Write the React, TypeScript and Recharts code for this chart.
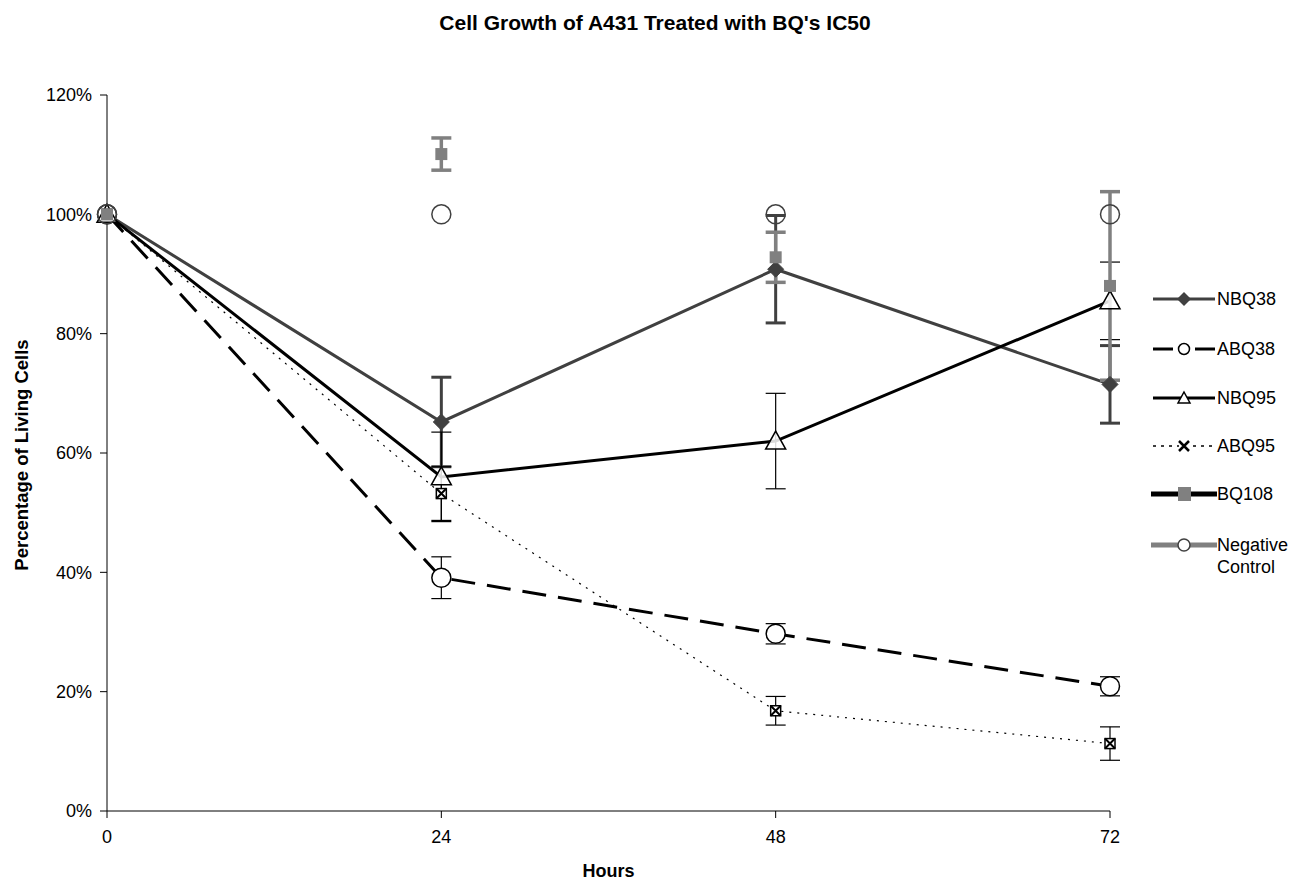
import React from 'react';
import { LineChart, Line, XAxis, YAxis, ErrorBar } from 'recharts';

const hours = [0, 24, 48, 72];
const nbq38 = [100, 65.2, 90.8, 71.5];
const nbq38Err = [0, 7.5, 9, 6.5];
const abq38 = [100, 39.1, 29.7, 20.9];
const abq38Err = [0, 3.5, 1.7, 1.6];
const nbq95 = [100, 56, 62, 85.5];
const nbq95Err = [0, 7.5, 8, 6.5];
const abq95 = [100, 53.2, 16.8, 11.3];
const abq95Err = [0, 4.5, 2.4, 2.8];
const bq108 = [100, 110.1, 92.8, 88];
const bq108Err = [0, 2.7, 4.2, 15.8];
const negControl = [100, 100, 100, 100];
const yTicks = [0, 20, 40, 60, 80, 100, 120];
const xTicks = [0, 24, 48, 72];
const legendNames = ['NBQ38', 'ABQ38', 'NBQ95', 'ABQ95', 'BQ108', 'Negative Control'];

const data = hours.map((h, i) => ({
  h,
  nbq38: nbq38[i], nbq38Err: nbq38Err[i],
  abq38: abq38[i], abq38Err: abq38Err[i],
  nbq95: nbq95[i], nbq95Err: nbq95Err[i],
  abq95: abq95[i], abq95Err: abq95Err[i],
  bq108: bq108[i], bq108Err: bq108Err[i],
  neg: negControl[i],
}));

const FONT = 'Arial, "Liberation Sans", sans-serif';
const DARK = '#404040';
const GRAY = '#808080';

const Diamond = (p: any) => {
  const { cx, cy, key } = p;
  if (cx == null || cy == null) return <g key={key} />;
  const s = 8;
  return <path key={key} d={`M${cx},${cy - s}L${cx + s},${cy}L${cx},${cy + s}L${cx - s},${cy}Z`} fill={DARK} stroke={DARK} />;
};
const makeCircle = (color: string, r: number) => (p: any) => {
  const { cx, cy, key } = p;
  if (cx == null || cy == null) return <g key={key} />;
  return <circle key={key} cx={cx} cy={cy} r={r} fill="#fff" fillOpacity={color === DARK ? 0 : 1} stroke={color} strokeWidth={1.5} />;
};
const Triangle = (p: any) => {
  const { cx, cy, key } = p;
  if (cx == null || cy == null) return <g key={key} />;
  return <path key={key} d={`M${cx},${cy - 10}L${cx + 10},${cy + 8}L${cx - 10},${cy + 8}Z`} fill="#fff" fillOpacity={0.85} stroke="#000" strokeWidth={1.5} />;
};
const XBox = (p: any) => {
  const { cx, cy, key } = p;
  if (cx == null || cy == null) return <g key={key} />;
  const s = 5;
  return (
    <g key={key}>
      <rect x={cx - s} y={cy - s} width={2 * s} height={2 * s} fill="#fff" stroke="#000" strokeWidth={1.5} />
      <path d={`M${cx - s},${cy - s}L${cx + s},${cy + s}M${cx + s},${cy - s}L${cx - s},${cy + s}`} stroke="#000" strokeWidth={2} />
    </g>
  );
};
const Square = (p: any) => {
  const { cx, cy, key } = p;
  if (cx == null || cy == null) return <g key={key} />;
  return <rect key={key} x={cx - 6} y={cy - 6} width={12} height={12} fill={GRAY} />;
};

const legendIcons = [
  <svg width={66} height={20}><line x1={2} y1={10} x2={64} y2={10} stroke={DARK} strokeWidth={3} /><path d="M33,3L40,10L33,17L26,10Z" fill={DARK} /></svg>,
  <svg width={66} height={20}><line x1={2} y1={10} x2={22} y2={10} stroke="#000" strokeWidth={3} /><line x1={44} y1={10} x2={64} y2={10} stroke="#000" strokeWidth={3} /><circle cx={33} cy={10} r={5.5} fill="#fff" stroke="#000" strokeWidth={1.5} /></svg>,
  <svg width={66} height={20}><line x1={2} y1={10} x2={64} y2={10} stroke="#000" strokeWidth={3} /><path d="M33,4L39,15L27,15Z" fill="#fff" stroke="#000" strokeWidth={1.5} /></svg>,
  <svg width={66} height={20}><line x1={2} y1={10} x2={64} y2={10} stroke="#000" strokeWidth={1.5} strokeDasharray="3 5" /><rect x={28} y={5} width={10} height={10} fill="#fff" /><path d="M28,5L38,15M38,5L28,15" stroke="#000" strokeWidth={2.5} /></svg>,
  <svg width={66} height={20}><line x1={0} y1={10} x2={66} y2={10} stroke="#000" strokeWidth={5} /><rect x={27} y={3} width={13} height={14} fill={GRAY} /></svg>,
  <svg width={66} height={20}><line x1={0} y1={10} x2={66} y2={10} stroke={GRAY} strokeWidth={5} /><circle cx={33} cy={10} r={6} fill="#fff" stroke={DARK} strokeWidth={1.5} /></svg>,
];
const legendY = [299, 349, 398, 446, 494, 545];

export default function App() {
  return (
    <div style={{ position: 'relative', width: 1290, height: 876, fontFamily: FONT, background: '#fff' }}>
      <div style={{ position: 'absolute', left: 0, width: 1294, top: 2, textAlign: 'center', fontWeight: 'bold', fontSize: 21, lineHeight: '26px', color: '#000' }}>
        Cell Growth of A431 Treated with BQ's IC50
      </div>
      <div style={{ position: 'absolute', left: 0, top: 0, width: 0, height: 0 }}>
        <div style={{ position: 'absolute', left: 14, top: 447, transform: 'translate(-50%,-50%) rotate(-90deg)', whiteSpace: 'nowrap', fontWeight: 'bold', fontSize: 18.5 }}>
          Percentage of Living Cells
        </div>
      </div>
      <div style={{ position: 'absolute', left: 99, width: 1003, top: 853, textAlign: 'center', fontWeight: 'bold', fontSize: 18 }}>
        Hours
      </div>
      <LineChart width={1290} height={870} data={data} margin={{ top: 87, right: 188, bottom: 37, left: 29 }}>
        <XAxis
          dataKey="h" type="number" domain={[0, 72]} ticks={xTicks}
          axisLine={{ stroke: '#000' }} tickLine={{ stroke: '#000' }} tickSize={7} tickMargin={12}
          tick={{ fill: '#000', fontSize: 18, fontFamily: FONT }} height={30}
        />
        <YAxis
          type="number" domain={[0, 120]} ticks={yTicks} width={70}
          tickFormatter={(v: number) => `${v}%`}
          axisLine={{ stroke: '#000' }} tickLine={{ stroke: '#000' }} tickSize={7} tickMargin={8}
          tick={{ fill: '#000', fontSize: 18, fontFamily: FONT }}
        />
        <Line dataKey="nbq38" stroke={DARK} strokeWidth={3} dot={Diamond} isAnimationActive={false}>
          <ErrorBar dataKey="nbq38Err" direction="y" stroke={DARK} strokeWidth={3} width={10} />
        </Line>
        <Line dataKey="abq38" stroke="#000" strokeWidth={3} strokeDasharray="24 12" dot={makeCircle('#000', 9.5)} isAnimationActive={false}>
          <ErrorBar dataKey="abq38Err" direction="y" stroke="#000" strokeWidth={1.2} width={10} />
        </Line>
        <Line dataKey="nbq95" stroke="#000" strokeWidth={3} dot={Triangle} isAnimationActive={false}>
          <ErrorBar dataKey="nbq95Err" direction="y" stroke="#000" strokeWidth={1.2} width={10} />
        </Line>
        <Line dataKey="abq95" stroke="#000" strokeWidth={1.2} strokeDasharray="2 6" dot={XBox} isAnimationActive={false}>
          <ErrorBar dataKey="abq95Err" direction="y" stroke="#000" strokeWidth={1.2} width={10} />
        </Line>
        <Line dataKey="bq108" stroke="none" dot={Square} isAnimationActive={false}>
          <ErrorBar dataKey="bq108Err" direction="y" stroke={GRAY} strokeWidth={3.5} width={10} />
        </Line>
        <Line dataKey="neg" stroke="none" dot={makeCircle(DARK, 9.5)} isAnimationActive={false} />
      </LineChart>
      {legendNames.map((name, i) => (
        <div key={name} style={{ position: 'absolute', left: 1143, top: legendY[i] - 8 - 11, display: 'flex', alignItems: 'flex-start', fontSize: 18 }}>
          <div style={{ marginTop: 1 }}>{legendIcons[i]}</div>
          <div style={{ lineHeight: '22px', width: 80 }}>{name}</div>
        </div>
      ))}
    </div>
  );
}
